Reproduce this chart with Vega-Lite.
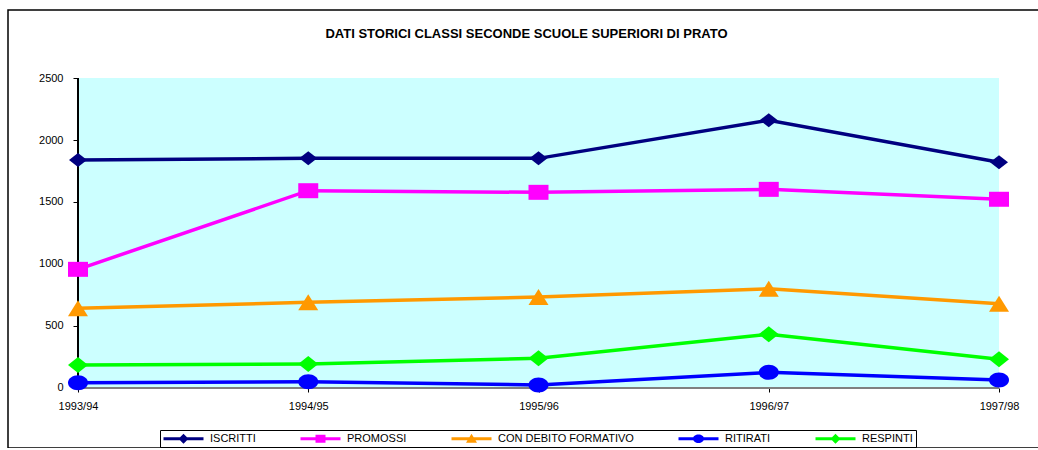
{
  "$schema": "https://vega.github.io/schema/vega-lite/v6.json",
  "width": 1061,
  "height": 438,
  "autosize": {"type": "none"},
  "padding": {"left": 8, "top": 10, "right": 0, "bottom": 0},
  "background": "white",
  "config": {
    "view": {"stroke": "black", "strokeWidth": 1.5},
    "font": "Liberation Sans",
    "axisY": {"offset": -70, "domain": false, "grid": false, "ticks": true, "tickColor": "black", "tickSize": 5, "labelFontSize": 11, "labelColor": "black", "labelPadding": 10, "title": null, "format": "d"},
    "axisX": {"offset": -60, "domain": false, "grid": false, "ticks": true, "tickColor": "black", "tickSize": 4, "labelFontSize": 11, "labelColor": "black", "labelPadding": 8, "labelAngle": 0, "title": null},
    "legend": {
      "title": null, "orient": "none", "legendX": 152, "legendY": 420, "direction": "horizontal",
      "strokeColor": "black", "padding": 3, "symbolSize": 100, "symbolOffset": 15, "labelOffset": 21,
      "symbolOpacity": 1, "symbolStrokeWidth": 0,
      "labelFont": "Liberation Sans", "labelFontSize": 11, "labelColor": "black", "columnPadding": 44
    }
  },
  "title": {
    "text": "DATI STORICI CLASSI SECONDE SCUOLE SUPERIORI DI PRATO",
    "font": "Liberation Sans",
    "fontSize": 13,
    "fontWeight": "bold",
    "color": "black",
    "anchor": "middle",
    "baseline": "alphabetic",
    "offset": -41,
    "dx": -12
  },
  "data": {
    "values": [
      {"anno": "1993/94", "serie": "ISCRITTI", "valore": 1839},
      {"anno": "1994/95", "serie": "ISCRITTI", "valore": 1852},
      {"anno": "1995/96", "serie": "ISCRITTI", "valore": 1852},
      {"anno": "1996/97", "serie": "ISCRITTI", "valore": 2160},
      {"anno": "1997/98", "serie": "ISCRITTI", "valore": 1820},
      {"anno": "1993/94", "serie": "PROMOSSI", "valore": 957},
      {"anno": "1994/95", "serie": "PROMOSSI", "valore": 1591},
      {"anno": "1995/96", "serie": "PROMOSSI", "valore": 1578},
      {"anno": "1996/97", "serie": "PROMOSSI", "valore": 1602},
      {"anno": "1997/98", "serie": "PROMOSSI", "valore": 1522},
      {"anno": "1993/94", "serie": "CON DEBITO FORMATIVO", "valore": 643},
      {"anno": "1994/95", "serie": "CON DEBITO FORMATIVO", "valore": 691},
      {"anno": "1995/96", "serie": "CON DEBITO FORMATIVO", "valore": 734},
      {"anno": "1996/97", "serie": "CON DEBITO FORMATIVO", "valore": 800},
      {"anno": "1997/98", "serie": "CON DEBITO FORMATIVO", "valore": 680},
      {"anno": "1993/94", "serie": "RITIRATI", "valore": 43},
      {"anno": "1994/95", "serie": "RITIRATI", "valore": 51},
      {"anno": "1995/96", "serie": "RITIRATI", "valore": 24},
      {"anno": "1996/97", "serie": "RITIRATI", "valore": 126},
      {"anno": "1997/98", "serie": "RITIRATI", "valore": 64},
      {"anno": "1993/94", "serie": "RESPINTI", "valore": 185},
      {"anno": "1994/95", "serie": "RESPINTI", "valore": 194},
      {"anno": "1995/96", "serie": "RESPINTI", "valore": 239},
      {"anno": "1996/97", "serie": "RESPINTI", "valore": 433},
      {"anno": "1997/98", "serie": "RESPINTI", "valore": 231}
    ]
  },
  "encoding": {
    "x": {"field": "anno", "type": "ordinal", "scale": {"type": "point", "padding": 0.304}},
    "y": {"field": "valore", "type": "quantitative", "scale": {"domain": [-483.9, 3048.4], "nice": false, "zero": false}, "axis": {"values": [0, 500, 1000, 1500, 2000, 2500]}}
  },
  "layer": [
    {
      "transform": [{"filter": "datum.serie === 'ISCRITTI'"}],
      "mark": {"type": "area", "color": "#CCFFFF", "opacity": 1},
      "encoding": {
        "y": {"datum": 2500, "type": "quantitative"},
        "y2": {"datum": 0}
      }
    },
    {
      "mark": {"type": "rule", "color": "#808080", "strokeWidth": 1.5},
      "encoding": {
        "x": {"datum": "1993/94", "type": "ordinal"},
        "x2": {"datum": "1997/98"},
        "y": {"datum": 0, "type": "quantitative"}
      }
    },
    {
      "mark": {"type": "rule", "color": "black", "strokeWidth": 1},
      "encoding": {
        "x": {"datum": "1993/94", "type": "ordinal"},
        "y": {"datum": 0, "type": "quantitative"},
        "y2": {"datum": 2500}
      }
    },
    {
      "mark": {"type": "line", "strokeWidth": 3.5},
      "encoding": {
        "color": {
          "field": "serie", "type": "nominal",
          "scale": {"domain": ["ISCRITTI", "PROMOSSI", "CON DEBITO FORMATIVO", "RITIRATI", "RESPINTI"], "range": ["#000080", "#FF00FF", "#FF9900", "#0000FF", "#00FF00"]}
        }
      }
    },
    {
      "mark": {"type": "point", "filled": true, "opacity": 0, "size": 100},
      "encoding": {
        "color": {"field": "serie", "type": "nominal"},
        "shape": {
          "field": "serie", "type": "nominal",
          "scale": {"domain": ["ISCRITTI", "PROMOSSI", "CON DEBITO FORMATIVO", "RITIRATI", "RESPINTI"],
            "range": [
              "M-4,-0.3 L4,-0.3 L4,0.3 L-4,0.3 Z M0,-1 L1,0 L0,1 L-1,0 Z",
              "M-4,-0.3 L4,-0.3 L4,0.3 L-4,0.3 Z M-1,-0.8 L1,-0.8 L1,0.8 L-1,0.8 Z",
              "M-4,-0.3 L4,-0.3 L4,0.3 L-4,0.3 Z M0,-1 L1.1,0.8 L-1.1,0.8 Z",
              "M-4,-0.3 L4,-0.3 L4,0.3 L-4,0.3 Z M-1.1,0 A1.1,0.85 0 1,1 1.1,0 A1.1,0.85 0 1,1 -1.1,0 Z",
              "M-4,-0.3 L4,-0.3 L4,0.3 L-4,0.3 Z M0,-1 L1,0 L0,1 L-1,0 Z"
            ]}
        }
      }
    },
    {
      "transform": [{"filter": "datum.serie === 'ISCRITTI'"}],
      "mark": {"type": "point", "filled": true, "opacity": 1, "size": 100, "shape": "M0,-1.4 L1.8,0 L0,1.4 L-1.8,0 Z"},
      "encoding": {"color": {"field": "serie", "type": "nominal"}}
    },
    {
      "transform": [{"filter": "datum.serie === 'PROMOSSI'"}],
      "mark": {"type": "point", "filled": true, "opacity": 1, "size": 100, "shape": "M-2,-1.5 L2,-1.5 L2,1.5 L-2,1.5 Z"},
      "encoding": {"color": {"field": "serie", "type": "nominal"}}
    },
    {
      "transform": [{"filter": "datum.serie === 'CON DEBITO FORMATIVO'"}],
      "mark": {"type": "point", "filled": true, "opacity": 1, "size": 100, "shape": "M0,-1.6 L2,1.6 L-2,1.6 Z"},
      "encoding": {"color": {"field": "serie", "type": "nominal"}}
    },
    {
      "transform": [{"filter": "datum.serie === 'RITIRATI'"}],
      "mark": {"type": "point", "filled": true, "opacity": 1, "size": 100, "shape": "M-2,0 A2,1.5 0 1,1 2,0 A2,1.5 0 1,1 -2,0 Z"},
      "encoding": {"color": {"field": "serie", "type": "nominal"}}
    },
    {
      "transform": [{"filter": "datum.serie === 'RESPINTI'"}],
      "mark": {"type": "point", "filled": true, "opacity": 1, "size": 100, "shape": "M0,-1.6 L2,0 L0,1.6 L-2,0 Z"},
      "encoding": {"color": {"field": "serie", "type": "nominal"}}
    }
  ]
}
